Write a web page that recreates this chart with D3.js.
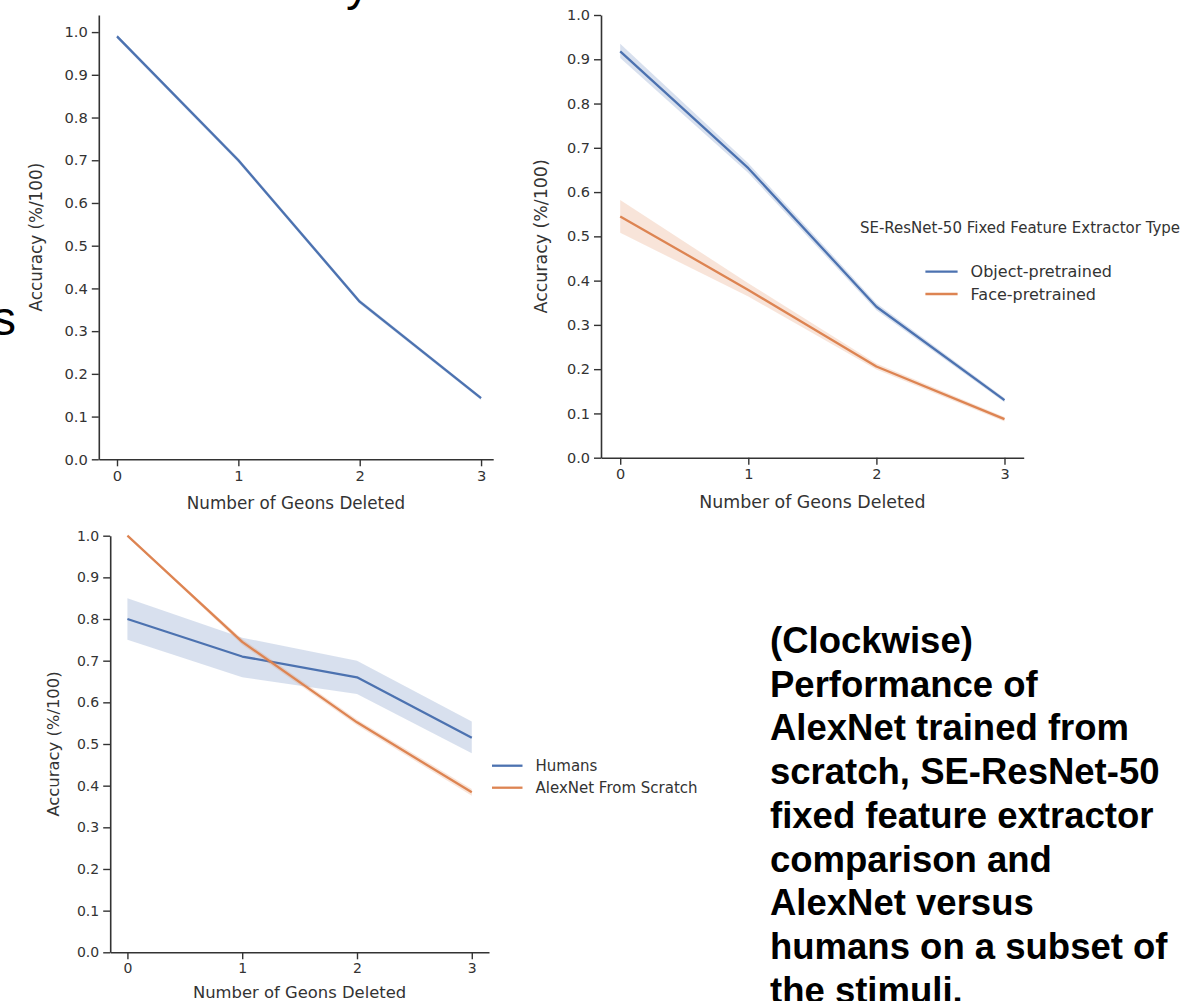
<!DOCTYPE html>
<html>
<head>
<meta charset="utf-8">
<script src="https://cdn.jsdelivr.net/npm/d3@7"></script>
<style>
  html, body { margin: 0; padding: 0; background: #fff; }
  svg { display: block; }
</style>
</head>
<body>
<svg id="chart" width="1186" height="1001"></svg>
<script>
// shared x categories and y ticks
const geons = [0, 1, 2, 3];
const geonLabels = ["0", "1", "2", "3"];
const yTickValues = [0, 0.1, 0.2, 0.3, 0.4, 0.5, 0.6, 0.7, 0.8, 0.9, 1.0];
const yTickLabels = ["0.0", "0.1", "0.2", "0.3", "0.4", "0.5", "0.6", "0.7", "0.8", "0.9", "1.0"];

// top-left: AlexNet trained from scratch
const alexMean = [0.990, 0.700, 0.369, 0.143];
const alexLo = [0.985, 0.695, 0.364, 0.139];
const alexHi = [0.994, 0.705, 0.374, 0.147];

// top-right: SE-ResNet-50 fixed feature extractors
const objectMean = [0.918, 0.654, 0.341, 0.130];
const objectLo = [0.903, 0.643, 0.333, 0.125];
const objectHi = [0.935, 0.665, 0.349, 0.135];
const faceMean = [0.545, 0.379, 0.206, 0.087];
const faceLo = [0.508, 0.364, 0.199, 0.082];
const faceHi = [0.582, 0.394, 0.213, 0.092];

// bottom: humans vs AlexNet on a subset
const humanMean = [0.800, 0.710, 0.660, 0.515];
const humanLo = [0.750, 0.660, 0.620, 0.478];
const humanHi = [0.850, 0.755, 0.700, 0.554];
const alexSubMean = [1.000, 0.745, 0.552, 0.384];
const alexSubLo = [0.998, 0.738, 0.545, 0.376];
const alexSubHi = [1.000, 0.752, 0.559, 0.392];

const captionLines = [
    "(Clockwise)",
    "Performance of",
    "AlexNet trained from",
    "scratch, SE-ResNet-50",
    "fixed feature extractor",
    "comparison and",
    "AlexNet versus",
    "humans on a subset of",
    "the stimuli."
];

const blue = "#4c72b0";
const orange = "#dd8452";
const ink = "#333";
const font = "'DejaVu Sans', sans-serif";

const svg = d3.select("#chart");

const drawPanel = (cfg, series, legend) => {
    const g = svg.append("g");
    const x = d3.scaleLinear().domain(cfg.xDomain).range([cfg.left, cfg.right]);
    const y = d3.scaleLinear().domain([0, cfg.yMax]).range([cfg.bottom, cfg.top]);

    series.forEach(s => {
        const pts = geons.map((d, i) => ({x: d, m: s.mean[i], lo: s.lo[i], hi: s.hi[i]}));
        g.append("path").datum(pts)
            .attr("d", d3.area().x(d => x(d.x)).y0(d => y(d.lo)).y1(d => y(d.hi)))
            .attr("fill", s.color)
            .attr("fill-opacity", 0.22);
        g.append("path").datum(pts)
            .attr("d", d3.line().x(d => x(d.x)).y(d => y(d.m)))
            .attr("fill", "none")
            .attr("stroke", s.color)
            .attr("stroke-width", 2.3)
            .attr("stroke-linejoin", "round");
    });

    const styleAxis = a => {
        a.select(".domain").attr("stroke", ink).attr("stroke-width", 1.6);
        a.selectAll(".tick line").attr("stroke", ink).attr("stroke-width", 1.4);
        a.selectAll(".tick text").attr("fill", ink)
            .style("font-family", font).style("font-size", cfg.tickFont + "px");
    };

    g.append("g")
        .attr("transform", `translate(${cfg.left},0)`)
        .call(d3.axisLeft(y).tickValues(yTickValues)
            .tickFormat((d, i) => yTickLabels[i])
            .tickSize(7).tickPadding(4).tickSizeOuter(0))
        .call(styleAxis);

    g.append("g")
        .attr("transform", `translate(0,${cfg.bottom})`)
        .call(d3.axisBottom(x).tickValues(geons)
            .tickFormat((d, i) => geonLabels[i])
            .tickSize(7).tickPadding(4).tickSizeOuter(0))
        .call(styleAxis);

    g.append("text")
        .attr("x", (cfg.left + cfg.right) / 2)
        .attr("y", cfg.xLabelY)
        .attr("text-anchor", "middle")
        .attr("fill", ink)
        .style("font-family", font).style("font-size", cfg.labelFont + "px")
        .text("Number of Geons Deleted");

    g.append("text")
        .attr("transform", `translate(${cfg.yLabelX},${(cfg.top + cfg.bottom) / 2}) rotate(-90)`)
        .attr("text-anchor", "middle")
        .attr("fill", ink)
        .style("font-family", font).style("font-size", cfg.labelFont + "px")
        .text("Accuracy (%/100)");

    if (legend) {
        const lg = g.append("g").style("font-family", font);
        if (legend.title) {
            lg.append("text")
                .attr("x", legend.titleX).attr("y", legend.titleY)
                .attr("text-anchor", "middle").attr("fill", ink)
                .style("font-size", legend.titleFont + "px")
                .text(legend.title);
        }
        series.forEach((s, i) => {
            const ly = legend.y0 + i * legend.step;
            lg.append("line")
                .attr("x1", legend.x).attr("x2", legend.x + legend.lineLen)
                .attr("y1", ly).attr("y2", ly)
                .attr("stroke", s.color).attr("stroke-width", 2.3);
            lg.append("text")
                .attr("x", legend.x + legend.lineLen + 13).attr("y", ly + legend.font * 0.36)
                .attr("fill", ink)
                .style("font-size", legend.font + "px")
                .text(s.name);
        });
    }
};

drawPanel(
    {left: 98.8, right: 493.2, xDomain: [-0.15, 3.1], top: 15, bottom: 459.3, yMax: 1.04,
     tickFont: 14.7, labelFont: 16.8, xLabelY: 509, yLabelX: 42},
    [{name: "AlexNet", color: blue, mean: alexMean, lo: alexLo, hi: alexHi}],
    null
);

drawPanel(
    {left: 601, right: 1023.7, xDomain: [-0.15, 3.15], top: 15, bottom: 457.7, yMax: 1.0,
     tickFont: 14.5, labelFont: 17.4, xLabelY: 508, yLabelX: 547},
    [{name: "Object-pretrained", color: blue, mean: objectMean, lo: objectLo, hi: objectHi},
     {name: "Face-pretrained", color: orange, mean: faceMean, lo: faceLo, hi: faceHi}],
    {title: "SE-ResNet-50 Fixed Feature Extractor Type", titleX: 1020, titleY: 232.5, titleFont: 15,
     font: 16, x: 925.4, lineLen: 32.2, y0: 271.7, step: 22.3}
);

drawPanel(
    {left: 110.2, right: 489, xDomain: [-0.15, 3.15], top: 535.7, bottom: 952.3, yMax: 1.0,
     tickFont: 14, labelFont: 16.4, xLabelY: 998, yLabelX: 59},
    [{name: "Humans", color: blue, mean: humanMean, lo: humanLo, hi: humanHi},
     {name: "AlexNet From Scratch", color: orange, mean: alexSubMean, lo: alexSubLo, hi: alexSubHi}],
    {title: null, font: 15, x: 492, lineLen: 30.5, y0: 765.7, step: 22}
);

// fragments of slide text cropped at the edges
svg.append("text").attr("x", -8).attr("y", 335)
    .style("font-family", "'Liberation Sans', Arial, sans-serif").style("font-size", "48px")
    .attr("fill", "#000").text("s");
svg.append("text").attr("x", 346).attr("y", 0)
    .style("font-family", "'Liberation Sans', Arial, sans-serif").style("font-size", "48px")
    .attr("fill", "#000").text("y");

// caption
svg.append("g")
    .style("font-family", "'Liberation Sans', Arial, sans-serif")
    .style("font-size", "36.5px").style("font-weight", "bold")
    .selectAll("text")
    .data(captionLines)
    .join("text")
    .attr("x", 770)
    .attr("y", (d, i) => 653 + i * 43.7)
    .attr("fill", "#000")
    .text(d => d);
</script>
</body>
</html>
